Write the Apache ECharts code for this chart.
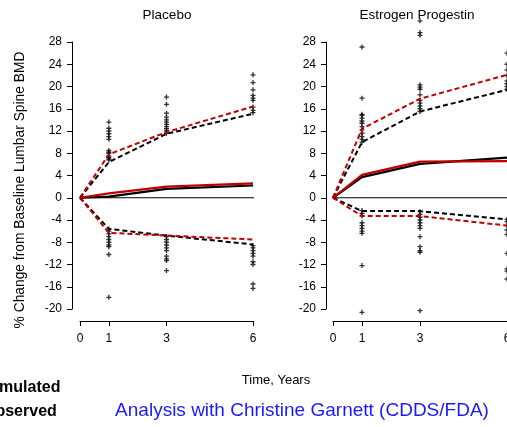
<!DOCTYPE html>
<html>
<head>
<meta charset="utf-8">
<script src="https://cdn.jsdelivr.net/npm/echarts@6/dist/echarts.min.js"></script>
<style>
  html, body { margin: 0; padding: 0; background: #fff; }
  #chart { width: 507px; height: 427px; }
</style>
</head>
<body>
<div id="chart"></div>
<script>
// 时间点（年）
var times = [0, 1, 3, 6];
var tickYears = [0, 1, 3, 6];
var zeroLine = [0, 6.28];
var panelNames = ['Placebo', 'Estrogen Progestin'];

// Placebo - 黑线(observed) / 红线(simulated)
var placeboBlackUpper = [0, 6.4, 11.5, 15.1];
var placeboBlackMid = [0, 0.2, 1.6, 2.2];
var placeboBlackLower = [0, -5.6, -6.8, -8.4];
var placeboRedUpper = [0, 7.8, 11.8, 16.4];
var placeboRedMid = [0, 0.8, 2.0, 2.6];
var placeboRedLower = [0, -6.3, -6.8, -7.5];

// Estrogen Progestin
var epBlackUpper = [0, 10.0, 15.5, 19.4];
var epBlackMid = [0, 3.7, 6.1, 7.2];
var epBlackLower = [0, -2.4, -2.4, -3.9];
var epRedUpper = [0, 12.4, 17.8, 22.1];
var epRedMid = [0, 4.1, 6.5, 6.6];
var epRedLower = [0, -3.3, -3.3, -5.0];

// 个体观测点
var placeboPtsY1 = [13.6, 12.5, 12, 11.5, 11, 10.5, 8.5, 8.2, 8, 7.5, 7.2, 7, 6.8,
    -5.6, -6, -6.5, -7, -7.5, -8, -8.5, -8.8, -10.2, -17.9];
var placeboPtsY3 = [18.1, 16.8, 15.2, 14.5, 14, 13.6, 13.2, 12.8, 12.4, 12, 11.6,
    -7, -7.5, -8, -8.5, -9, -9.5, -10.5, -11, -11.3, -13.1];
var placeboPtsY6 = [22.1, 20.7, 19.4, 18.4, 17.9, 17.5, 16.3, 15.7, 15.3,
    -8.6, -9, -9.5, -10, -10.5, -11.5, -12, -15.5, -16.3];
var epPtsY1 = [27.1, 17.9, 15.0, 14.8, 14.3, 13.8, 13.4, 12.8, 12.2, 11.6, 11, 10.5, 10,
    -2.3, -2.8, -3.3, -4.5, -5, -5.5, -6, -6.4, -12.2, -20.6];
var epPtsY3 = [31.8, 29.7, 29.2, 20.3, 19.9, 19.5, 18.5, 17.5, 17, 16.5, 16, 15.5,
    -2.5, -3, -3.5, -4, -4.5, -5, -5.5, -7, -8.8, -9.5, -9.8, -20.3];
var epPtsY6 = [26, 24, 23, 22, 21, 20.5, 20, 19.5,
    -3.9, -4.3, -5, -5.8, -6.6, -10, -12.8, -13.2, -14.6];

var chart = echarts.init(document.getElementById('chart'));

function pair(ys) {
    return ys.map(function (v, i) { return [times[i], v]; });
}
function pts(t, ys) {
    return ys.map(function (v) { return [t, v]; });
}

var plusSymbol = 'path://M-0.8,-3H0.8V-0.8H3V0.8H0.8V3H-0.8V0.8H-3V-0.8H-0.8Z';

function lineSeries(idx, ys, color, dashed) {
    return {
        type: 'line', xAxisIndex: idx, yAxisIndex: idx,
        data: pair(ys), symbol: 'none', clip: false, silent: true,
        lineStyle: {color: color, width: dashed ? 2 : 2.2, type: dashed ? [5, 3] : 'solid'},
        z: dashed ? 3 : 4
    };
}

var series = [];
var panels = [
    {black: [placeboBlackUpper, placeboBlackMid, placeboBlackLower],
        red: [placeboRedUpper, placeboRedMid, placeboRedLower],
        pts: [placeboPtsY1, placeboPtsY3, placeboPtsY6]},
    {black: [epBlackUpper, epBlackMid, epBlackLower],
        red: [epRedUpper, epRedMid, epRedLower],
        pts: [epPtsY1, epPtsY3, epPtsY6]}
];

panels.forEach(function (p, idx) {
    // 零线
    series.push({
        type: 'line', xAxisIndex: idx, yAxisIndex: idx, silent: true, clip: false,
        data: [[zeroLine[0], 0], [zeroLine[1], 0]], symbol: 'none',
        lineStyle: {color: '#000', width: 1}, z: 1
    });
    var scatterData = pts(1, p.pts[0]).concat(pts(3, p.pts[1]), pts(6, p.pts[2]));
    series.push({
        type: 'scatter', xAxisIndex: idx, yAxisIndex: idx, clip: false, silent: true,
        data: scatterData, symbol: plusSymbol, symbolSize: 5,
        itemStyle: {color: '#000'}, z: 2
    });
    p.black.forEach(function (ys, k) {
        series.push(lineSeries(idx, ys, '#000', k !== 1));
    });
    p.red.forEach(function (ys, k) {
        series.push(lineSeries(idx, ys, '#c00000', k !== 1));
    });
});

var grids = [
    {left: 80, top: 42, width: 173, height: 267, outerBoundsMode: 'none'},
    {left: 333, top: 42, width: 174, height: 267, outerBoundsMode: 'none'}
];

var axisFont = {fontFamily: 'Liberation Sans, Arial, sans-serif', fontSize: 12, color: '#000'};

var option = {
    animation: false,
    backgroundColor: '#fff',
    title: panelNames.map(function (name, i) {
        return {
            text: name, left: i === 0 ? 162 : 412, top: 3, textAlign: 'center',
            textStyle: {fontFamily: 'Liberation Sans, Arial, sans-serif', fontSize: 13.5, fontWeight: 'normal', color: '#000'}
        };
    }),
    grid: grids,
    xAxis: grids.map(function (g, i) {
        return {
            type: 'value', gridIndex: i, min: 0, max: 6, offset: 12,
            position: 'bottom',
            splitLine: {show: false},
            axisLine: {show: true, onZero: false, lineStyle: {color: '#000', width: 1}},
            axisTick: {show: true, length: 5, customValues: tickYears, lineStyle: {color: '#000'}},
            axisLabel: Object.assign({customValues: tickYears, margin: 12, hideOverlap: false}, axisFont)
        };
    }),
    yAxis: grids.map(function (g, i) {
        return {
            type: 'value', gridIndex: i, min: -20, max: 28, interval: 4, offset: i === 0 ? 8 : 7,
            splitLine: {show: false},
            axisLine: {show: true, onZero: false, lineStyle: {color: '#000', width: 1}},
            axisTick: {show: true, length: 5, lineStyle: {color: '#000'}},
            axisLabel: Object.assign({margin: 10}, axisFont)
        };
    }),
    graphic: [
        {
            type: 'text', x: 20, y: 190, rotation: Math.PI / 2,
            style: {
                text: '% Change from Baseline Lumbar Spine BMD', align: 'center', verticalAlign: 'middle',
                font: '13.8px "Liberation Sans", Arial, sans-serif', fill: '#000'
            }
        },
        {
            type: 'text', x: 276, y: 380,
            style: {
                text: 'Time, Years', align: 'center', verticalAlign: 'middle',
                font: '13px "Liberation Sans", Arial, sans-serif', fill: '#000'
            }
        },
        {
            type: 'text', x: -16, y: 388,
            style: {
                text: 'Simulated', align: 'left', verticalAlign: 'middle',
                font: 'bold 16px "Liberation Sans", Arial, sans-serif', fill: '#000'
            }
        },
        {
            type: 'text', x: -17, y: 412,
            style: {
                text: 'Observed', align: 'left', verticalAlign: 'middle',
                font: 'bold 16px "Liberation Sans", Arial, sans-serif', fill: '#000'
            }
        },
        {
            type: 'text', x: 302, y: 411,
            style: {
                text: 'Analysis with Christine Garnett (CDDS/FDA)', align: 'center', verticalAlign: 'middle',
                font: '19px "Liberation Sans", Arial, sans-serif', fill: '#1a1aff'
            }
        }
    ],
    series: series
};

option && chart.setOption(option);
</script>
</body>
</html>
